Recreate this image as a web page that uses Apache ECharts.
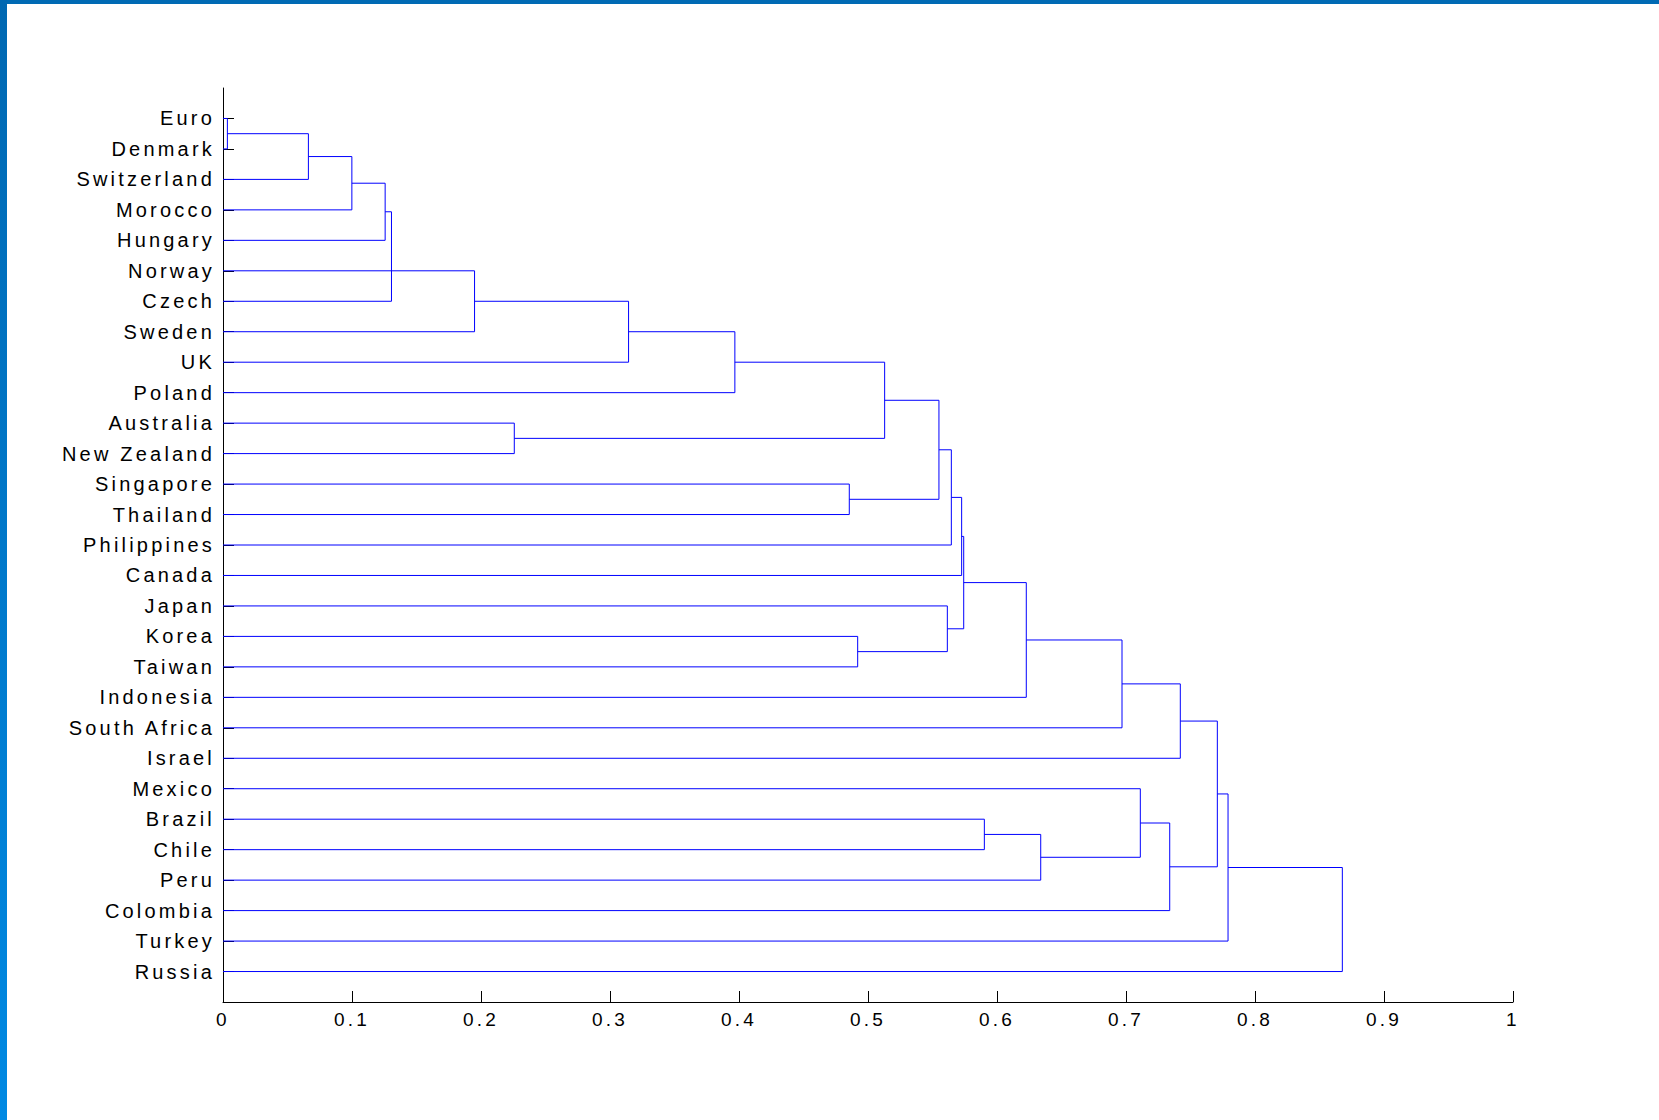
<!DOCTYPE html>
<html>
<head>
<meta charset="utf-8">
<script src="https://cdn.jsdelivr.net/npm/echarts@6/dist/echarts.min.js"></script>
<style>
  html, body { margin: 0; padding: 0; background: #ffffff; }
  #chart { position: absolute; left: 0; top: 0; width: 1659px; height: 1120px; }
  #chart svg text { letter-spacing: 3.2px; }
  #topbar { position: absolute; left: 0; top: 0; width: 1659px; height: 4px; background: #006ab4; z-index: 5; }
  #leftbar { position: absolute; left: 0; top: 0; width: 7px; height: 1120px; background: linear-gradient(#0068b2, #0089e3); z-index: 6; }
</style>
</head>
<body>
<div id="chart"></div>
<div id="topbar"></div>
<div id="leftbar"></div>
<script>
// Leaf labels, top to bottom
const leaves = ['Euro', 'Denmark', 'Switzerland', 'Morocco', 'Hungary', 'Norway', 'Czech', 'Sweden',
  'UK', 'Poland', 'Australia', 'New Zealand', 'Singapore', 'Thailand', 'Philippines', 'Canada',
  'Japan', 'Korea', 'Taiwan', 'Indonesia', 'South Africa', 'Israel', 'Mexico', 'Brazil', 'Chile',
  'Peru', 'Colombia', 'Turkey', 'Russia'];

// Linkage (MATLAB convention): index < 29 is a leaf, index >= 29 is cluster (29 + link number)
const mergeA = [0, 29, 30, 31, 32, 5, 34, 35, 10, 36, 12, 38, 40, 41, 17, 16, 42, 45, 46, 47, 23, 49, 22, 51, 48, 53, 54];
const mergeB = [1, 2, 3, 4, 6, 7, 8, 9, 11, 37, 13, 39, 14, 15, 18, 43, 44, 19, 20, 21, 24, 25, 50, 26, 52, 27, 28];
const mergeHeight = [0.0034, 0.0662, 0.0999, 0.1257, 0.1306, 0.1950, 0.3144, 0.3968, 0.2258, 0.5129,
  0.4855, 0.5550, 0.5646, 0.5726, 0.4920, 0.5615, 0.5742, 0.6227, 0.6969, 0.7421,
  0.5902, 0.6339, 0.7111, 0.7339, 0.7708, 0.7791, 0.8677];

// x-axis tick values
const xTicks = [0, 0.1, 0.2, 0.3, 0.4, 0.5, 0.6, 0.7, 0.8, 0.9, 1];

const n = leaves.length;
const posY = {}, posX = {};
for (let i = 0; i < n; i++) { posY[i] = i + 1; posX[i] = 0; }
const series = [];
for (let k = 0; k < mergeA.length; k++) {
  const a = mergeA[k], b = mergeB[k], h = mergeHeight[k];
  series.push({
    type: 'line',
    data: [[posX[a], posY[a]], [h, posY[a]], [h, posY[b]], [posX[b], posY[b]]],
    showSymbol: false,
    symbol: 'none',
    silent: true,
    animation: false,
    lineStyle: { color: '#0000ff', width: 1 },
    z: 3
  });
  posY[n + k] = (posY[a] + posY[b]) / 2;
  posX[n + k] = h;
}

const leafValues = leaves.map((_, i) => i + 1);

const chart = echarts.init(document.getElementById('chart'), null, { renderer: 'svg' });
chart.setOption({
  backgroundColor: '#ffffff',
  animation: false,
  grid: { left: 223, right: 146, top: 88, bottom: 118, containLabel: false },
  xAxis: {
    type: 'value', min: 0, max: 1, interval: 0.1, position: 'bottom',
    splitLine: { show: false },
    axisLine: { show: true, onZero: false, lineStyle: { color: '#000000', width: 1 } },
    axisTick: { show: true, inside: true, length: 11, lineStyle: { color: '#000000' }, customValues: xTicks },
    axisLabel: {
      show: true, margin: 8, color: '#000000', fontSize: 19,
      fontFamily: '"Liberation Sans", Arial, sans-serif',
      customValues: xTicks,
      formatter: v => String(Math.round(v * 10) / 10)
    }
  },
  yAxis: {
    type: 'value', min: 0, max: n + 1, inverse: true, position: 'left',
    splitLine: { show: false },
    axisLine: { show: true, onZero: false, lineStyle: { color: '#000000', width: 1 } },
    axisTick: { show: true, inside: true, length: 11, lineStyle: { color: '#000000' }, customValues: leafValues },
    axisLabel: {
      show: true, margin: 8, color: '#000000', fontSize: 20,
      fontFamily: '"Liberation Sans", Arial, sans-serif',
      customValues: leafValues,
      formatter: v => leaves[Math.round(v) - 1] || ''
    }
  },
  series: series
});
</script>
</body>
</html>
